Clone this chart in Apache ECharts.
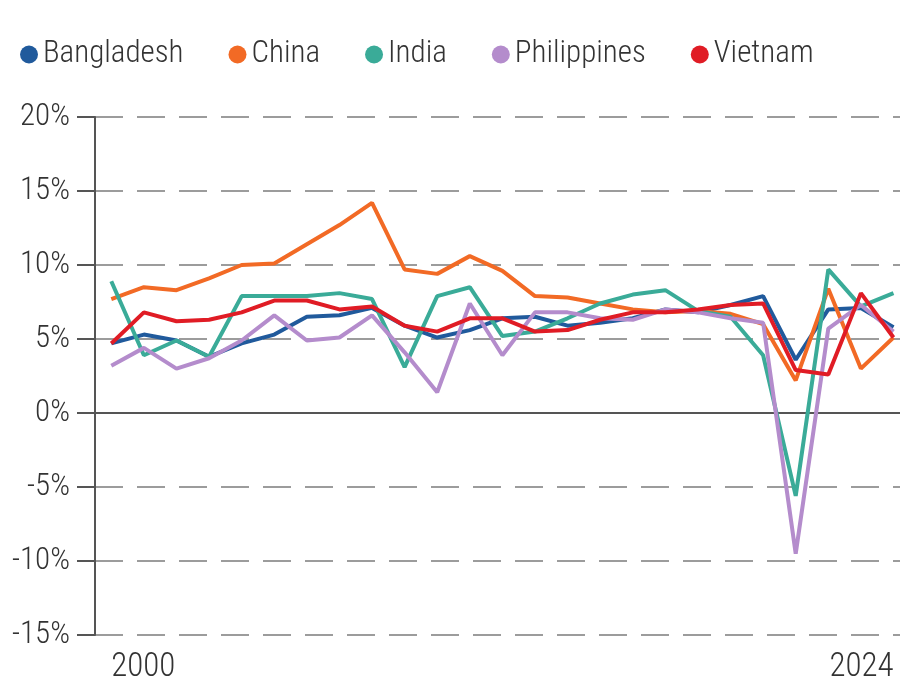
<!DOCTYPE html>
<html>
<head>
<meta charset="utf-8">
<title>GDP growth</title>
<script src="https://cdn.jsdelivr.net/npm/echarts@6/dist/echarts.min.js"></script>
<style>
  * { margin: 0; padding: 0; }
  html, body { background: #fff; }
  #chart { width: 900px; height: 692px; }
</style>
</head>
<body>
<div id="chart"></div>
<script>
// years on the x axis
const years = [2000, 2001, 2002, 2003, 2004, 2005, 2006, 2007, 2008, 2009, 2010, 2011, 2012,
  2013, 2014, 2015, 2016, 2017, 2018, 2019, 2020, 2021, 2022, 2023, 2024];

// annual growth, %
const bangladesh = [4.7, 5.3, 4.9, 3.8, 4.7, 5.3, 6.5, 6.6, 7.1, 5.9, 5.1, 5.6, 6.4, 6.5, 5.9, 6.1, 6.4, 7.0, 6.8, 7.3, 7.9, 3.6, 7.0, 7.1, 5.8];
const china = [7.7, 8.5, 8.3, 9.1, 10.0, 10.1, 11.4, 12.7, 14.2, 9.7, 9.4, 10.6, 9.6, 7.9, 7.8, 7.4, 7.0, 6.8, 6.9, 6.7, 6.0, 2.2, 8.4, 3.0, 5.1];
const india = [8.9, 3.9, 4.9, 3.8, 7.9, 7.9, 7.9, 8.1, 7.7, 3.1, 7.9, 8.5, 5.2, 5.5, 6.4, 7.4, 8.0, 8.3, 6.9, 6.5, 3.9, -5.6, 9.7, 7.2, 8.1];
const philippines = [3.2, 4.4, 3.0, 3.7, 4.9, 6.6, 4.9, 5.1, 6.6, 4.1, 1.4, 7.4, 3.9, 6.8, 6.8, 6.4, 6.3, 7.0, 6.8, 6.4, 6.1, -9.5, 5.7, 7.3, 5.5];
const vietnam = [4.7, 6.8, 6.2, 6.3, 6.8, 7.6, 7.6, 7.0, 7.2, 5.9, 5.5, 6.4, 6.4, 5.5, 5.6, 6.3, 6.8, 6.8, 7.0, 7.3, 7.4, 2.9, 2.6, 8.1, 5.1];

// tick labels
const yTicks = [-15, -10, -5, 0, 5, 10, 15, 20];
const xLabels = [2000, 2024];

const names = ["Bangladesh", "China", "India", "Philippines", "Vietnam"];
const values = [bangladesh, china, india, philippines, vietnam];
const colors = ["#205a9c", "#f26a25", "#3aab98", "#b48ccc", "#e01c25"];

// the source uses a narrow face; take the first one installed
const ctx = document.createElement("canvas").getContext("2d");
function textWidth(family, size, s) {
  ctx.font = "300 " + size + "px " + family;
  return ctx.measureText(s).width;
}
function installed(name) {
  const s = "Bangladesh 2024%";
  return textWidth("'" + name + "', monospace", 40, s) !== textWidth("monospace", 40, s) ||
    textWidth("'" + name + "', serif", 40, s) !== textWidth("serif", 40, s);
}
const candidates = ["Roboto Condensed", "Liberation Sans Narrow", "Open Sans Condensed", "Roboto", "Liberation Sans"];
let family = "sans-serif";
for (const c of candidates) {
  if (installed(c)) { family = "'" + c + "'"; break; }
}
// scale so "Bangladesh" is about as wide as in the picture (140px)
const fs = Math.min(32, Math.round(32 * 140 / textWidth(family, 32, "Bangladesh")));
const fsX = Math.min(34, Math.round(34 * 64 / textWidth(family, 34, "2000")));
const padX = Math.round(textWidth(family, fsX, "2000"));
const weight = 300;

const chart = echarts.init(document.getElementById("chart"));

const series = names.map((name, i) => ({
  name: name,
  type: "line",
  showSymbol: false,
  symbol: "circle",
  color: colors[i],
  lineStyle: { width: 4, color: colors[i] },
  data: years.map((y, j) => [y, values[i][j]]),
}));

// solid zero line
series[0].markLine = {
  silent: true,
  symbol: "none",
  z: 1,
  label: { show: false },
  lineStyle: { type: "solid", color: "#555", width: 2 },
  data: [{ yAxis: 0 }],
};

chart.setOption({
  animation: false,
  legend: {
    left: 15,
    top: 50 - Math.round(fs * 0.6),
    icon: "circle",
    itemWidth: 18,
    itemHeight: 18,
    itemGap: 45,
    textStyle: { fontFamily: family, fontWeight: weight, fontSize: fs, color: "#333", lineHeight: Math.round(fs * 1.2) },
    data: names,
  },
  grid: { left: 95, right: 0, top: 117, bottom: 57 },
  xAxis: {
    type: "value",
    min: 1999.5,
    max: 2024.2,
    axisLine: { show: false },
    axisTick: { show: false },
    splitLine: { show: false },
    axisLabel: {
      customValues: xLabels,
      margin: 16,
      color: "#333",
      fontFamily: family,
      fontWeight: weight,
      fontSize: fsX,
      // first label starts at its point, last one ends at its point
      formatter: (v) => (v === xLabels[0] ? "{l|" + v + "}" : "{r|" + v + "}"),
      rich: {
        l: { fontFamily: family, fontWeight: weight, fontSize: fsX, color: "#333", padding: [0, 0, 0, padX] },
        r: { fontFamily: family, fontWeight: weight, fontSize: fsX, color: "#333", padding: [0, padX, 0, 0] },
      },
    },
  },
  yAxis: {
    type: "value",
    min: yTicks[0],
    max: yTicks[yTicks.length - 1],
    interval: 5,
    axisLine: { show: true, lineStyle: { color: "#555", width: 2 } },
    axisTick: { show: true, length: 18, lineStyle: { color: "#555", width: 2 } },
    axisLabel: {
      margin: 25,
      color: "#333",
      fontFamily: family,
      fontWeight: weight,
      fontSize: fs,
      formatter: (v) => v + "%",
    },
    splitLine: {
      show: true,
      lineStyle: { color: "#9c9c9c", width: 2, type: [28, 14] },
    },
  },
  series: series,
});
</script>
</body>
</html>
